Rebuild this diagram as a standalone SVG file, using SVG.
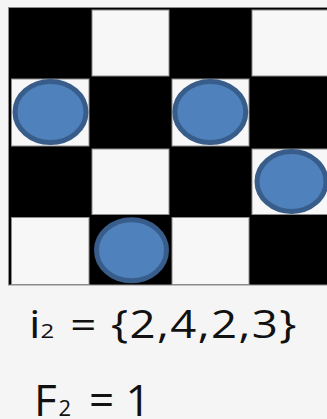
<svg xmlns="http://www.w3.org/2000/svg" width="327" height="419" viewBox="0 0 327 419">
<style>
.w{fill:#f7f7f7;stroke:#8c8c8c;stroke-width:1}
.q{fill:#4f81bd;stroke:#385d8a;stroke-width:5}
.t{font-family:"Open Sans","DejaVu Sans",sans-serif;fill:#111}
</style>
<rect x="0" y="0" width="327" height="419" fill="#f5f5f5"/>
<g id="board">
<rect x="8.5" y="7.5" width="330" height="277.5" fill="#000" stroke="#8c8c8c" stroke-width="1"/>
<rect class="w" x="92" y="10" width="77" height="66"/>
<rect class="w" x="252" y="10" width="80" height="66"/>
<rect class="w" x="11.5" y="79" width="77.5" height="67"/>
<rect class="w" x="172" y="79" width="77" height="67"/>
<rect class="w" x="92" y="149" width="77" height="65.5"/>
<rect class="w" x="252" y="149" width="80" height="65.5"/>
<rect class="w" x="11.5" y="217.5" width="77.5" height="67"/>
<rect class="w" x="172" y="217.5" width="77" height="67"/>
</g>
<g id="queen1"><ellipse class="q" cx="50.5" cy="112" rx="35.5" ry="30.5"/></g>
<g id="queen2"><ellipse class="q" cx="210.3" cy="112" rx="35.5" ry="30.5"/></g>
<g id="queen3"><ellipse class="q" cx="291.5" cy="181.5" rx="34.5" ry="30"/></g>
<g id="queen4"><ellipse class="q" cx="131.5" cy="250.3" rx="35" ry="30.5"/></g>
<g id="label1" transform="scale(1.2,1)">
<text class="t" x="24.2" y="338" font-size="38">i<tspan font-size="20">2</tspan></text>
<text class="t" x="58.5" y="338" font-size="38" letter-spacing="1.2">= {2,4,2,3}</text>
</g>
<g id="label2">
<text class="t" y="416" font-size="44"><tspan x="34">F</tspan><tspan x="58.5" font-size="22">2</tspan><tspan x="89">= 1</tspan></text>
</g>
</svg>
